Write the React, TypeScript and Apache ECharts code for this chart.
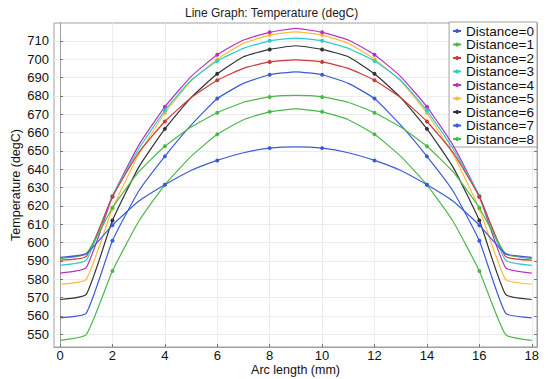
import React, { useEffect, useRef } from "react";
import * as echarts from "echarts";

const arcLength = [0, 1, 2, 3, 4, 5, 6, 7, 8, 9, 10, 11, 12, 13, 14, 15, 16, 17, 18];
const xTicks = [0, 2, 4, 6, 8, 10, 12, 14, 16, 18];
const yTicks = [550, 560, 570, 580, 590, 600, 610, 620, 630, 640, 650, 660, 670, 680, 690, 700, 710];
const seriesNames = [
  "Distance=0", "Distance=1", "Distance=2", "Distance=3", "Distance=4",
  "Distance=5", "Distance=6", "Distance=7", "Distance=8",
];

const dist0 = [592, 594, 609.5, 622.5, 631.5, 639.3, 644.8, 649, 651.5, 652.2, 651.5, 649, 644.8, 639.3, 631.5, 622.5, 609.5, 594, 592];
const dist1 = [591.3, 593.9, 619, 638.5, 652.5, 663, 670.8, 676.5, 679.4, 680.2, 679.4, 676.5, 670.8, 663, 652.5, 638.5, 619, 593.9, 591.3];
const dist2 = [590.4, 592.5, 625, 649, 666, 679, 688.5, 695, 698.5, 699.6, 698.5, 695, 688.5, 679, 666, 649, 625, 592.5, 590.4];
const dist3 = [587.6, 590.4, 625.5, 651, 672, 688.5, 699, 705.9, 710, 711.5, 710, 705.9, 699, 688.5, 672, 651, 625.5, 590.4, 587.6];
const dist4 = [583.4, 586.4, 625, 653, 674, 690.5, 702.4, 710.4, 714.6, 716.8, 714.6, 710.4, 702.4, 690.5, 674, 653, 625, 586.4, 583.4];
const dist5 = [577.3, 580, 618.5, 648, 670.5, 688, 700, 708.6, 713.1, 714.9, 713.1, 708.6, 700, 688, 670.5, 648, 618.5, 580, 577.3];
const dist6 = [569, 571.8, 612, 641, 662, 679, 692, 701.3, 705.3, 707.3, 705.3, 701.3, 692, 679, 662, 641, 612, 571.8, 569];
const dist7 = [559, 561.6, 601, 628, 647, 664, 678.5, 686.8, 691.5, 693.1, 691.5, 686.8, 678.5, 664, 647, 628, 601, 561.6, 559];
const dist8 = [546.7, 549.8, 584.5, 611.5, 631.5, 647, 659, 667, 671.3, 672.9, 671.3, 667, 659, 647, 631.5, 611.5, 584.5, 549.8, 546.7];

const colors = ["#3d5bd8", "#4cb84c", "#cc3a3a", "#2ccccc", "#b832c0", "#f5bd3c", "#333333", "#3d5bd8", "#4cb84c"];

export default function App() {
  const ref = useRef<HTMLDivElement>(null);
  useEffect(() => {
    const chart = echarts.init(ref.current!, null, { renderer: "svg" });
    const all = [dist0, dist1, dist2, dist3, dist4, dist5, dist6, dist7, dist8];
    const font = "Liberation Sans";
    chart.setOption({
      animation: false,
      backgroundColor: "#ffffff",
      title: {
        text: "Line Graph: Temperature (degC)",
        left: 185,
        top: 7,
        padding: 0,
        textStyle: { fontSize: 12, fontWeight: "normal", color: "#222", fontFamily: font },
      },
      legend: {
        orient: "vertical",
        right: 13,
        top: 22,
        padding: [2, 3, 1, 3],
        itemGap: -0.5,
        itemWidth: 8,
        itemHeight: 5,
        backgroundColor: "#fff",
        borderColor: "#a0a0a0",
        borderWidth: 1,
        borderRadius: 0,
        data: seriesNames,
        textStyle: { fontSize: 13.5, lineHeight: 13, color: "#111", fontFamily: font, padding: 0 },
      },
      grid: {
        left: 54,
        right: 13,
        top: 23,
        bottom: 32,
        show: true,
        borderColor: "#a0a0a0",
        borderWidth: 1,
        containLabel: false,
        outerBoundsMode: "none",
      },
      xAxis: {
        type: "value",
        min: -0.23,
        max: 18.2,
        axisLine: { show: true, onZero: false, lineStyle: { color: "#a0a0a0" } },
        axisTick: { show: true, inside: true, length: 3, customValues: xTicks, lineStyle: { color: "#777" } },
        axisLabel: { customValues: xTicks, color: "#111", fontSize: 13, lineHeight: 12, fontFamily: font, margin: 2 },
        splitLine: { show: true, lineStyle: { color: "#ececec", width: 1 } },
        name: "Arc length (mm)",
        nameLocation: "middle",
        nameGap: 17,
        nameMoveOverlap: false,
        nameTextStyle: { fontSize: 12.5, lineHeight: 12, color: "#111", fontFamily: font },
      },
      yAxis: [
        {
          type: "value",
          min: 543.1,
          max: 719.7,
          axisLine: { show: true, lineStyle: { color: "#a0a0a0" } },
          axisTick: { show: true, inside: true, length: 3, customValues: yTicks, lineStyle: { color: "#777" } },
          axisLabel: { customValues: yTicks, color: "#111", fontSize: 13, fontFamily: font, margin: 5 },
          splitLine: { show: true, lineStyle: { color: "#ececec", width: 1 } },
          name: "Temperature (degC)",
          nameLocation: "middle",
          nameGap: 32,
          nameMoveOverlap: false,
          nameRotate: 90,
          nameTextStyle: { fontSize: 12.5, color: "#111", fontFamily: font },
        },
        {
          type: "value",
          position: "right",
          min: 543.1,
          max: 719.7,
          axisLine: { show: true, lineStyle: { color: "#a0a0a0" } },
          axisTick: { show: true, inside: true, length: 3, customValues: yTicks, lineStyle: { color: "#777" } },
          axisLabel: { show: false },
          splitLine: { show: false },
        },
      ],
      series: all.map((d, i) => ({
        type: "line",
        name: seriesNames[i],
        data: arcLength.map((x, j) => [x, d[j]]),
        smooth: 0.15,
        color: colors[i],
        lineStyle: { width: 1.2, color: colors[i] },
        itemStyle: { color: colors[i] },
        symbol: "circle",
        showAllSymbol: true,
        symbolSize: (v: number[]) => (v[0] % 2 === 0 && v[0] > 0 && v[0] < 18 ? 4 : 0),
        z: 10 - i,
      })),
    });
    return () => chart.dispose();
  }, []);
  return <div ref={ref} style={{ position: "absolute", left: 0, top: 0, width: 550, height: 379 }} />;
}
